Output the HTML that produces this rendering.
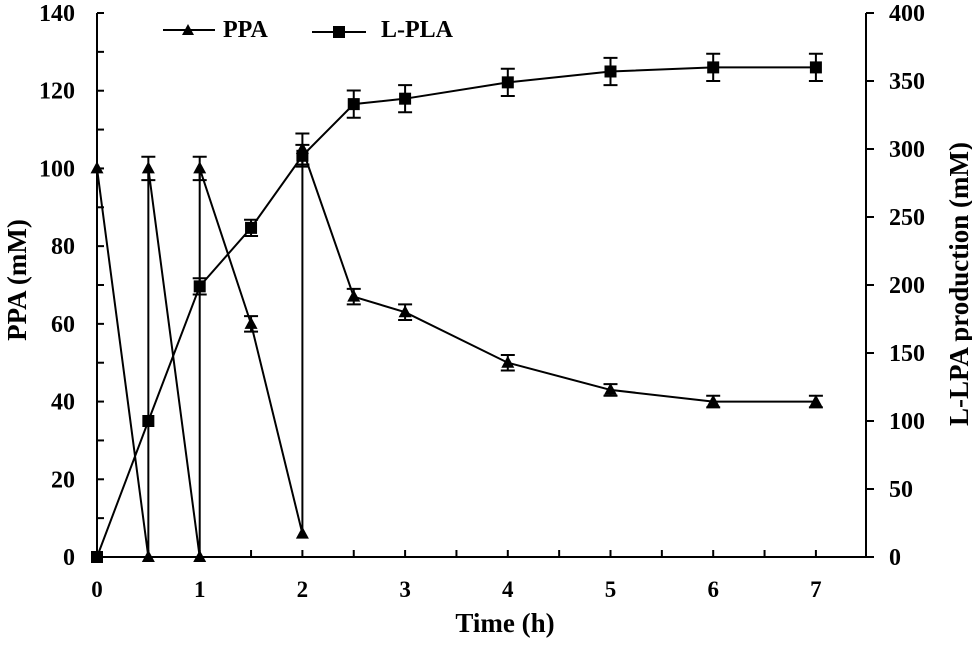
<!DOCTYPE html>
<html><head><meta charset="utf-8"><style>
body{margin:0;background:#fff}
svg text{font-family:"Liberation Serif",serif;font-weight:bold;fill:#000}
</style></head><body>
<svg id="chart" width="972" height="640" xmlns="http://www.w3.org/2000/svg"></svg>
<script>
const ppaTimes=[0,0.5,0.5,1,1,1.5,2,2,2.5,3,4,5,6,7];
const ppaValues=[100,0,100,0,100,60,6,105,67,63,50,43,40,40];
const ppaErrors=[0,0,3,0,3,2,0,4,2,2,2,1.5,1.5,1.5];
const plaTimes=[0,0.5,1,1.5,2,2.5,3,4,5,6,7];
const plaValues=[0,100,199,242,295,333,337,349,357,360,360];
const plaErrors=[0,0,6,6,8,10,10,10,10,10,10];
const xTicks=[0,1,2,3,4,5,6,7];
const yLeftTicks=[0,20,40,60,80,100,120,140];
const yRightTicks=[0,50,100,150,200,250,300,350,400];

const NS="http://www.w3.org/2000/svg";
const svg=document.getElementById('chart');
const X0=97,XS=102.7,Y0=557,YT=13;
const xs=t=>X0+t*XS;
const yl=v=>Y0-(v/140)*(Y0-YT);
const yr=v=>Y0-(v/400)*(Y0-YT);
function el(tag,attrs,name,txt){const e=document.createElementNS(NS,tag);for(const k in attrs)e.setAttribute(k,attrs[k]);


if(txt!==undefined)e.textContent=txt;svg.appendChild(e);return e;}
const XR=866;
el('line',{x1:X0,y1:YT,x2:X0,y2:Y0,stroke:'#000','stroke-width':2},'left-axis');
el('line',{x1:XR,y1:YT,x2:XR,y2:Y0,stroke:'#000','stroke-width':2},'right-axis');
el('line',{x1:X0,y1:Y0,x2:XR,y2:Y0,stroke:'#000','stroke-width':2},'x-axis');
for(let t=0.5;t<7.5;t+=1)el('line',{x1:xs(t),y1:Y0,x2:xs(t),y2:Y0-7,stroke:'#000','stroke-width':2},'x-minor-tick');
for(let v=10;v<140;v+=20)el('line',{x1:X0,y1:yl(v),x2:X0+7,y2:yl(v),stroke:'#000','stroke-width':2},'y-left-minor-tick');
xTicks.forEach(t=>{el('line',{x1:xs(t),y1:Y0,x2:xs(t),y2:Y0-7,stroke:'#000','stroke-width':2},'x-tick');
el('text',{x:xs(t),y:597,'font-size':23,'text-anchor':'middle'},'x-tick-label',t);});
yLeftTicks.forEach(v=>{el('line',{x1:X0,y1:yl(v),x2:X0+7,y2:yl(v),stroke:'#000','stroke-width':2},'y-left-tick');
el('text',{x:75,y:yl(v)+8,'font-size':24,'text-anchor':'end'},'y-left-tick-label',v);});
yRightTicks.forEach(v=>{el('line',{x1:XR,y1:yr(v),x2:XR+8,y2:yr(v),stroke:'#000','stroke-width':2},'y-right-tick');
el('text',{x:889,y:yr(v)+8,'font-size':24,'text-anchor':'start'},'y-right-tick-label',v);});
el('text',{x:505,y:632,'font-size':27,'text-anchor':'middle'},'x-axis-title','Time (h)');
el('text',{x:0,y:0,'font-size':27,'text-anchor':'middle',transform:'translate(26,280) rotate(-90)'},'y-left-axis-title','PPA (mM)');
el('text',{x:0,y:0,'font-size':27,'text-anchor':'middle',transform:'translate(968,284) rotate(-90)'},'y-right-axis-title','L-LPA production (mM)');
function series(ts,vs,es,sc,name,shape){
 el('polyline',{points:ts.map((t,i)=>xs(t)+','+sc(vs[i])).join(' '),fill:'none',stroke:'#000','stroke-width':2},name+'-line');
 ts.forEach((t,i)=>{const x=xs(t),y=sc(vs[i]);
  if(es[i]>0){const a=sc(vs[i]+es[i]),b=sc(vs[i]-es[i]);
   el('path',{d:`M${x},${a}V${b}M${x-7},${a}H${x+7}M${x-7},${b}H${x+7}`,stroke:'#000','stroke-width':2,fill:'none'},name+'-error-bar');}
  if(shape==='tri')el('polygon',{points:`${x},${y-7} ${x-6.5},${y+5} ${x+6.5},${y+5}`,fill:'#000'},name+'-point');
  else el('rect',{x:x-6,y:y-6,width:12,height:12,fill:'#000'},name+'-point');});
}
series(ppaTimes,ppaValues,ppaErrors,yl,'ppa','tri');
series(plaTimes,plaValues,plaErrors,yr,'pla','sq');
el('line',{x1:163,y1:30,x2:215,y2:30,stroke:'#000','stroke-width':2},'legend-ppa-line');
el('polygon',{points:'188,24 182,35 194,35',fill:'#000'},'legend-ppa-marker');
el('text',{x:223,y:37,'font-size':24},'legend-ppa-label','PPA');
el('line',{x1:312,y1:32,x2:366,y2:32,stroke:'#000','stroke-width':2},'legend-pla-line');
el('rect',{x:333,y:26,width:12,height:12,fill:'#000'},'legend-pla-marker');
el('text',{x:381,y:37,'font-size':24},'legend-pla-label','L-PLA');
</script>
</body></html>
